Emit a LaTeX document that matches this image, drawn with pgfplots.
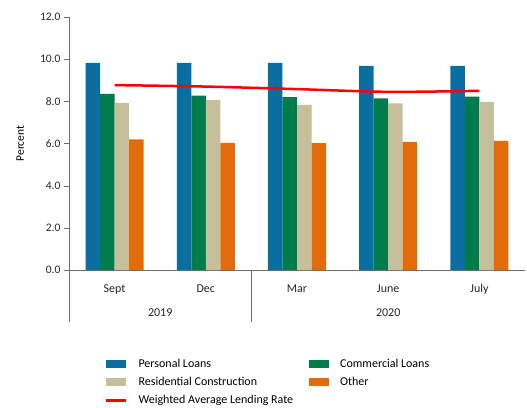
\documentclass[border=0pt]{standalone}
\usepackage{fontspec}
\setmainfont{Carlito}
\usepackage{pgfplots}
\pgfplotsset{compat=1.18}

\definecolor{plblue}{RGB}{11,110,160}
\definecolor{clgreen}{RGB}{0,123,75}
\definecolor{rctan}{RGB}{198,191,155}
\definecolor{othorange}{RGB}{227,108,10}
\definecolor{axgray}{RGB}{110,110,110}

\begin{document}
\begin{tikzpicture}
\begin{axis}[
    scale only axis,
    width=456pt, height=253pt,
    xmin=-0.5, xmax=4.5,
    ymin=0, ymax=12,
    axis lines=left,
    axis line style={-, axgray},
    ytick={0,2,...,12},
    /pgf/number format/fixed,
    /pgf/number format/fixed zerofill,
    /pgf/number format/precision=1,
    /pgf/number format/assume math mode=true,
    ytick style={axgray},
    y tick label style={font=\fontsize{11.5}{13}\selectfont, text=black!85},
    tick align=outside,
    major tick length=5pt,
    xtick={0,1,2,3,4},
    xticklabels={Sept,Dec,Mar,June,July},
    x tick style={draw=none},
    x tick label style={font=\fontsize{12}{14}\selectfont, text=black!85, yshift=-6pt},
    ylabel={Percent},
    ylabel style={at={(axis description cs:-0.107,0.5)}, anchor=center, font=\fontsize{11.5}{13}\selectfont},
    bar width=14.5pt,
    legend columns=2,
    legend cell align=left,
    legend style={draw=none, font=\fontsize{12}{14}\selectfont,
        at={(axis description cs:0.072,-0.335)}, anchor=north west,
        /tikz/every even column/.append style={column sep=14pt},
        row sep=4.5pt},
    clip=false,
]
\addplot[ybar, bar shift=-21.75pt, fill=plblue, draw=none,
    legend image code/.code={\fill[plblue] (0pt,-4pt) rectangle (20pt,4pt); \path (29pt,0pt);}]
    coordinates {(0,9.82) (1,9.83) (2,9.82) (3,9.68) (4,9.68)};
\addplot[ybar, bar shift=-7.25pt, fill=clgreen, draw=none,
    legend image code/.code={\fill[clgreen] (0pt,-4pt) rectangle (20pt,4pt); \path (29pt,0pt);}]
    coordinates {(0,8.35) (1,8.27) (2,8.20) (3,8.14) (4,8.22)};
\addplot[ybar, bar shift=7.25pt, fill=rctan, draw=none,
    legend image code/.code={\fill[rctan] (0pt,-4pt) rectangle (20pt,4pt); \path (29pt,0pt);}]
    coordinates {(0,7.93) (1,8.07) (2,7.83) (3,7.90) (4,7.97)};
\addplot[ybar, bar shift=21.75pt, fill=othorange, draw=none,
    legend image code/.code={\fill[othorange] (0pt,-4pt) rectangle (20pt,4pt); \path (29pt,0pt);}]
    coordinates {(0,6.20) (1,6.03) (2,6.02) (3,6.08) (4,6.12)};
\addplot[red, line width=2.5pt, smooth, mark=none,
    legend image code/.code={\draw[red, line width=2.5pt] (0pt,0pt) -- (20pt,0pt); \path (29pt,0pt);}]
    coordinates {(0,8.77) (1,8.70) (2,8.58) (3,8.45) (4,8.50)};
\legend{Personal Loans, Commercial Loans, Residential Construction, Other, Weighted Average Lending Rate}
\draw[axgray] (axis cs:-0.5,0) -- ([yshift=-52pt]axis cs:-0.5,0);
\draw[axgray] (axis cs:1.5,0) -- ([yshift=-52pt]axis cs:1.5,0);
\node[font=\fontsize{12}{14}\selectfont, text=black!85] at ([yshift=-43pt]axis cs:0.5,0) {2019};
\node[font=\fontsize{12}{14}\selectfont, text=black!85] at ([yshift=-43pt]axis cs:3,0) {2020};
\end{axis}
\pgfresetboundingbox
\path[use as bounding box] (-69pt,-137pt) rectangle (458pt,270pt);
\end{tikzpicture}
\end{document}
